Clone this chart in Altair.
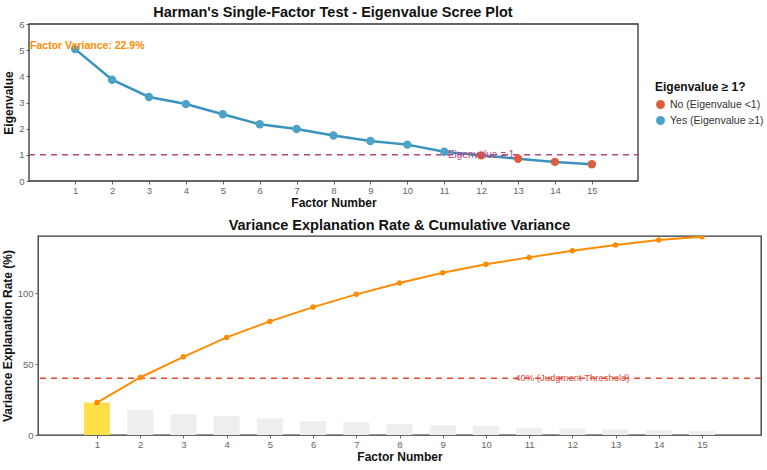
import altair as alt
import pandas as pd

# Factor numbers and eigenvalues from the factor analysis
factors = list(range(1, 16))
eigenvalues = [5.04, 3.87, 3.21, 2.94, 2.55, 2.17, 1.99, 1.74, 1.53, 1.39,
               1.12, 0.98, 0.85, 0.73, 0.64]
# Variance explained by each factor and the running total (%)
variance_pct = [22.9, 17.6, 14.6, 13.4, 11.6, 9.9, 9.0, 7.9, 7.0, 6.3,
                5.1, 4.5, 3.9, 3.3, 2.9]
cumulative_pct = [22.9, 40.6, 55.2, 68.9, 80.2, 90.3, 99.3, 107.3, 114.6, 120.5,
                  125.4, 130.1, 134.2, 137.7, 140.0]

status_labels = ["No (Eigenvalue <1)", "Yes (Eigenvalue ≥1)"]
status_colors = ["#D95F3E", "#4BA3C8"]

FONT = "Liberation Sans"
X_DOMAIN = [-0.25, 16.25]
Y_TOP = [0, 6]
Y_BOT = [0, 140.5]

df = pd.DataFrame({
    "factor": factors,
    "eigen": eigenvalues,
    "status": [status_labels[1] if e >= 1 else status_labels[0] for e in eigenvalues],
    "var": variance_pct,
    "cum": cumulative_pct,
    "hl": ["first" if f == 1 else "other" for f in factors],
})

x_axis = alt.Axis(values=factors, title="Factor Number", format="d")

# ---------- Scree plot ----------
# the top panel reaches a little further left than the lower one
x_top_scale = alt.Scale(domain=X_DOMAIN, range=[-9, 600], nice=False, zero=False)
y_top_scale = alt.Scale(domain=Y_TOP, nice=False)
y_top_axis = alt.Axis(values=[0, 1, 2, 3, 4, 5, 6], title="Eigenvalue", offset=9)

x_top = alt.X("factor:Q", scale=x_top_scale, axis=x_axis)
y_top = alt.Y("eigen:Q", scale=y_top_scale, axis=y_top_axis)

frame_top = pd.DataFrame({"x0": [X_DOMAIN[0]], "x1": [X_DOMAIN[1]], "y0": [Y_TOP[0]], "y1": [Y_TOP[1]]})
border_top = alt.Chart(frame_top).mark_rect(fill="transparent", stroke="#333333", strokeWidth=1.3).encode(
    x=alt.X("x0:Q", scale=x_top_scale, axis=x_axis), x2="x1:Q",
    y=alt.Y("y0:Q", scale=y_top_scale, axis=y_top_axis), y2="y1:Q",
)

scree_line = alt.Chart(df).mark_line(color="#3A93BD", strokeWidth=2.5).encode(x=x_top, y=y_top)
scree_pts = alt.Chart(df).mark_circle(size=70, opacity=1).encode(
    x=x_top, y=y_top,
    color=alt.Color("status:N", scale=alt.Scale(domain=status_labels, range=status_colors),
                    legend=alt.Legend(title="Eigenvalue ≥ 1?", orient="none",
                                      legendX=617, legendY=58, symbolType="circle",
                                      symbolSize=80, titleFontSize=12, titleFontWeight="bold",
                                      labelFontSize=10.5, labelColor="#333333",
                                      titleColor="#111111", rowPadding=5)),
)

thr_top = pd.DataFrame({"y": [1.0], "x": [12.0], "x0": [X_DOMAIN[0]], "x1": [X_DOMAIN[1]],
                        "label": ["Eigenvalue = 1"]})
rule_top = alt.Chart(thr_top).mark_rule(color="#B8477F", strokeDash=[6, 5], strokeWidth=1.5).encode(
    x=alt.X("x0:Q", scale=x_top_scale, axis=x_axis), x2="x1:Q",
    y=alt.Y("y:Q", scale=y_top_scale, axis=y_top_axis))
text_top = alt.Chart(thr_top).mark_text(color="#B8477F", fontSize=10, font=FONT).encode(
    x=alt.X("x:Q", scale=x_top_scale, axis=x_axis),
    y=alt.Y("y:Q", scale=y_top_scale, axis=y_top_axis), text="label:N")

ann_top = pd.DataFrame({"x": [1.33], "y": [5.17], "label": ["Factor Variance: 22.9%"]})
text_ann = alt.Chart(ann_top).mark_text(color="#FF8C00", fontSize=10.5, fontWeight="bold", font=FONT).encode(
    x=alt.X("x:Q", scale=x_top_scale, axis=x_axis),
    y=alt.Y("y:Q", scale=y_top_scale, axis=y_top_axis), text="label:N")

top = alt.layer(border_top, rule_top, scree_line, scree_pts, text_top, text_ann).properties(
    width=600, height=157,
    view=alt.ViewBackground(stroke="transparent"),
    title=alt.TitleParams("Harman's Single-Factor Test - Eigenvalue Scree Plot",
                          frame="group", offset=-1, dx=-5),
)

# ---------- Variance explained ----------
x_bot_scale = alt.Scale(domain=X_DOMAIN, nice=False, zero=False)
y_scale = alt.Scale(domain=Y_BOT, nice=False)
y_axis_bot = alt.Axis(values=[0, 50, 100], title="Variance Explanation Rate (%)")
x_bot = alt.X("factor:Q", scale=x_bot_scale, axis=x_axis)

bars = alt.Chart(df).mark_bar(width=26).encode(
    x=x_bot,
    y=alt.Y("var:Q", scale=y_scale, axis=y_axis_bot),
    color=alt.Color("hl:N", scale=alt.Scale(domain=["first", "other"], range=["#FFE04A", "#EEEEEE"]),
                    legend=None),
)
cum_line = alt.Chart(df).mark_line(color="#FF8C00", strokeWidth=2, clip=True).encode(
    x=x_bot, y=alt.Y("cum:Q", scale=y_scale, axis=y_axis_bot))
cum_pts = alt.Chart(df).mark_circle(color="#FF8C00", size=30, opacity=1, clip=True).encode(
    x=x_bot, y=alt.Y("cum:Q", scale=y_scale, axis=y_axis_bot))

thr_bot = pd.DataFrame({"y": [40.0], "x": [12.0], "label": ["40% (Judgment Threshold)"]})
rule_bot = alt.Chart(thr_bot).mark_rule(color="#E34A33", strokeDash=[6, 5], strokeWidth=1.5).encode(
    y=alt.Y("y:Q", scale=y_scale, axis=y_axis_bot))
text_bot = alt.Chart(thr_bot).mark_text(color="#E34A33", fontSize=9.5, font=FONT).encode(
    x=alt.X("x:Q", scale=x_bot_scale, axis=x_axis),
    y=alt.Y("y:Q", scale=y_scale, axis=y_axis_bot), text="label:N")

bottom = alt.layer(bars, rule_bot, cum_line, cum_pts, text_bot).properties(
    width=723, height=199,
    view=alt.ViewBackground(stroke="#333333", strokeWidth=1.3),
    title=alt.TitleParams("Variance Explanation Rate & Cumulative Variance",
                          frame="group", offset=3),
)

chart = alt.concat(top, bottom, columns=1, spacing=7).resolve_scale(
    x="independent", y="independent", color="independent"
).properties(
    padding={"left": 0, "top": 4, "right": 0, "bottom": 0},
).configure(
    font=FONT,
).configure_axis(
    grid=False, domain=False,
    labelFont=FONT, labelFontSize=9.5, labelColor="#666666",
    tickColor="#666666", tickSize=3, labelPadding=2,
    titleFont=FONT, titleFontSize=12, titleFontWeight="bold", titleColor="#111111",
).configure_axisX(
    titlePadding=3, labelPadding=1,
).configure_axisY(
    titlePadding=3,
).configure_title(
    font=FONT, fontSize=14.5, fontWeight="bold", color="#111111", anchor="middle",
).configure_legend(
    labelFont=FONT, titleFont=FONT,
)

chart.save("out.html", embed_options={"renderer": "svg", "actions": False})
